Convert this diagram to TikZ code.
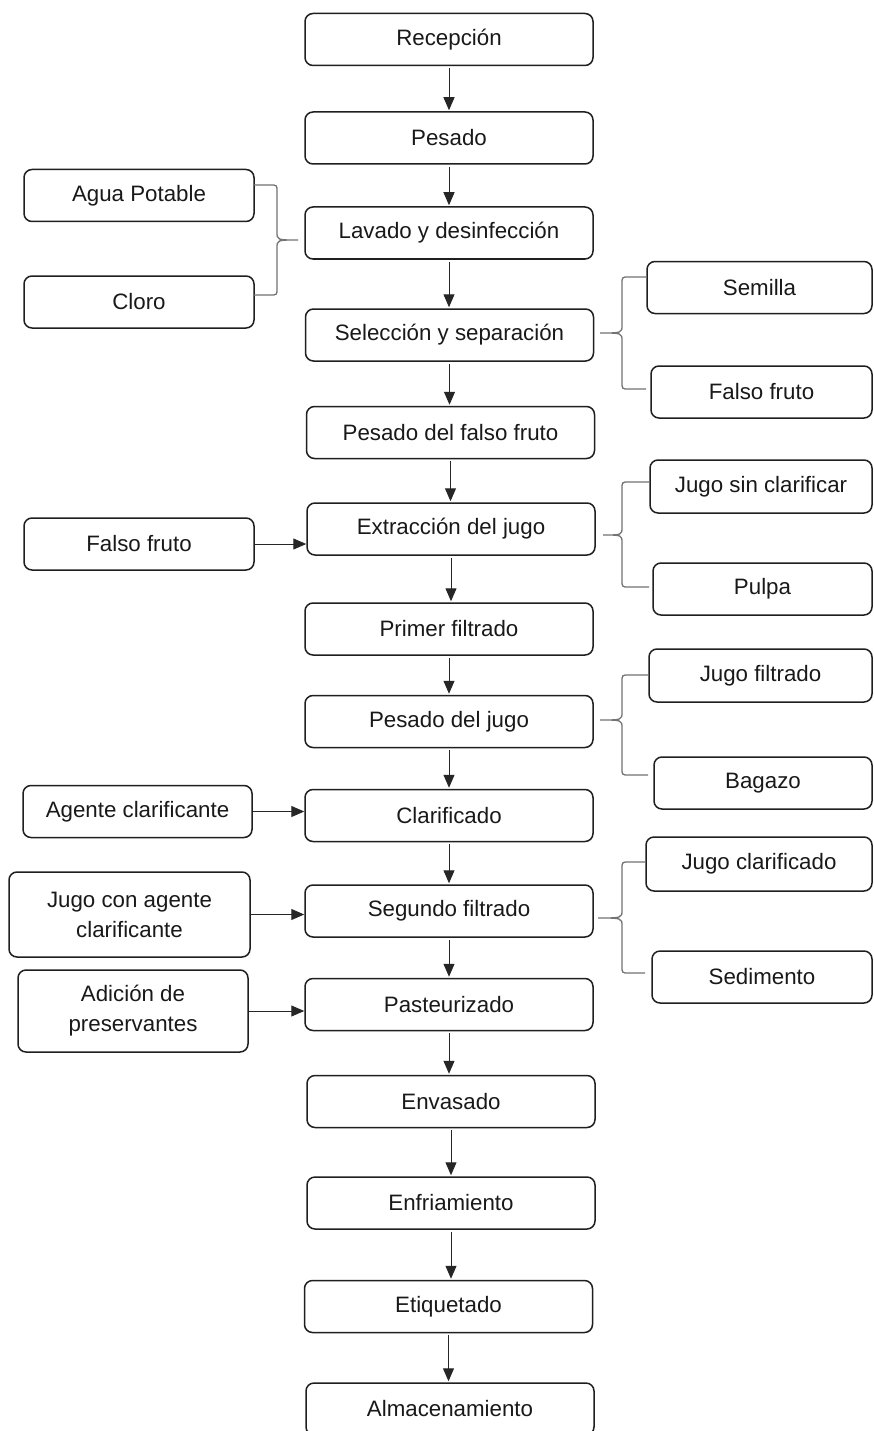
\documentclass[tikz,border=0pt]{standalone}
\usepackage{fontspec}
\setmainfont{Liberation Sans}
\usetikzlibrary{arrows.meta}
\newcommand\mybrace[7]{%
  \draw[brc] (#1,#4) -- ({#2+#7},#4) .. controls (#2,#4) .. (#2,{#4+7})
    -- (#2,{#5-8}) .. controls (#2,#5) .. (#3,#5)
    .. controls (#2,#5) .. (#2,{#5+8})
    -- (#2,{#6-7}) .. controls (#2,#6) .. ({#2+#7},#6) -- (#1,#6);}
\begin{document}
\begin{tikzpicture}[x=1pt,y=-1pt,
  box/.style={draw=black!88, line width=1.5pt, rounded corners=8pt, fill=white,
    align=center, inner sep=0pt, font=\fontsize{22.3}{30}\selectfont, text=black!90},
  mainbox/.style={box, minimum width=288pt, minimum height=52pt},
  sidebox/.style={box, minimum height=52pt},
  arr/.style={-{Triangle[length=13pt,width=11pt]}, line width=1pt, draw=black!85},
  brc/.style={draw=black!55, line width=1.3pt}]
\clip (0,0) rectangle (873,1431);
\fill[white] (0,0) rectangle (873,1431);
% main column
\node[mainbox] (rec) at (449,39.5) {Recepción};
\node[mainbox] (pes) at (449,138) {Pesado};
\node[mainbox] (lav) at (449,233) {Lavado y desinfección};
\node[mainbox] (sel) at (449.5,335) {Selección y separación};
\node[mainbox] (pff) at (450.5,432.5) {Pesado del falso fruto};
\node[mainbox] (ext) at (451,529) {Extracción del jugo};
\node[mainbox] (pri) at (449,629) {Primer filtrado};
\node[mainbox] (pju) at (449,721.5) {Pesado del jugo};
\node[mainbox] (cla) at (449,815.5) {Clarificado};
\node[mainbox] (seg) at (449,911) {Segundo filtrado};
\node[mainbox] (pas) at (449,1004.5) {Pasteurizado};
\node[mainbox] (env) at (451,1101.5) {Envasado};
\node[mainbox] (enf) at (451,1203) {Enfriamiento};
\node[mainbox] (eti) at (448.5,1306.5) {Etiquetado};
\node[mainbox] (alm) at (450,1409) {Almacenamiento};
% left column
\node[sidebox, minimum width=230pt] (agua) at (139,195.5) {Agua Potable};
\node[sidebox, minimum width=230pt] (clo) at (139,302) {Cloro};
\node[sidebox, minimum width=230pt] (ffl) at (139,544) {Falso fruto};
\node[sidebox, minimum width=229pt] (age) at (137.5,811.5) {Agente clarificante};
\node[sidebox, minimum width=241pt, minimum height=85pt] (jca) at (129.5,914.5) {Jugo con agente\\clarificante};
\node[sidebox, minimum width=230pt, minimum height=82pt] (adi) at (133,1011) {Adición de\\preservantes};
% right column
\node[sidebox, minimum width=225pt] (sem) at (759.5,287.5) {Semilla};
\node[sidebox, minimum width=221pt] (ffr) at (761.5,392) {Falso fruto};
\node[sidebox, minimum width=222pt, minimum height=53pt] (jsc) at (761,486.5) {Jugo sin clarificar};
\node[sidebox, minimum width=219pt] (pul) at (762.5,589) {Pulpa};
\node[sidebox, minimum width=223pt, minimum height=53pt] (jfi) at (760.5,675.5) {Jugo filtrado};
\node[sidebox, minimum width=218pt] (bag) at (763,783) {Bagazo};
\node[sidebox, minimum width=226pt, minimum height=54pt] (jcl) at (759,864) {Jugo clarificado};
\node[sidebox, minimum width=220pt] (sed) at (762,977) {Sedimento};
% vertical arrows
\foreach \a/\b in {rec/pes,pes/lav,lav/sel,sel/pff,pff/ext,ext/pri,pri/pju,pju/cla,cla/seg,seg/pas,pas/env,env/enf,enf/eti,eti/alm}
  \draw[arr, shorten <=2pt, shorten >=1pt] (\a.south) -- (\a.south |- \b.north);
% side arrows
\draw[arr] (ffl.east) -- (ffl.east -| ext.west);
\draw[arr] (age.east) -- (age.east -| cla.west);
\draw[arr] (jca.east) -- (jca.east -| seg.west);
\draw[arr] (adi.east) -- (adi.east -| pas.west);
% braces
\mybrace{254}{277}{298}{185}{240}{295}{-7}
\mybrace{646}{622}{600}{277}{333}{389}{7}
\mybrace{649}{622}{603}{482}{535}{587}{7}
\mybrace{648}{622}{600}{675}{720}{775}{7}
\mybrace{645}{622}{598}{862}{918}{973}{7}
\end{tikzpicture}
\end{document}
